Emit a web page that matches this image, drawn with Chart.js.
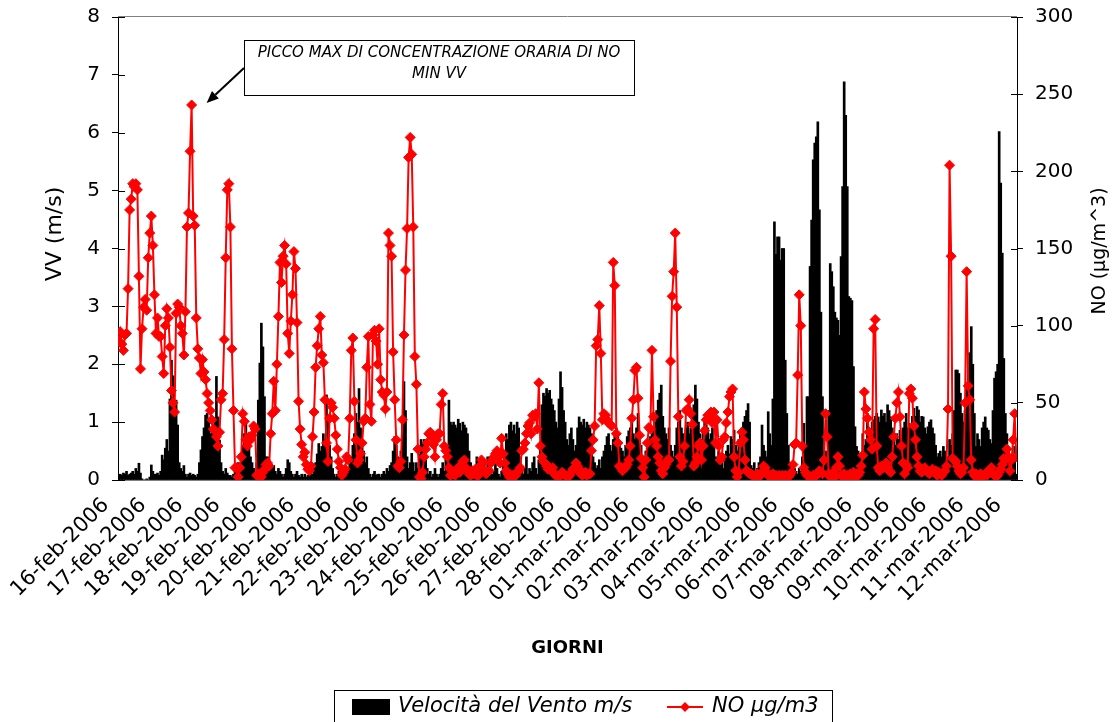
<!DOCTYPE html>
<html lang="it">
<head>
<meta charset="utf-8">
<title>Velocità del Vento e NO</title>
<script src="https://cdn.jsdelivr.net/npm/chart.js@4.4.1/dist/chart.umd.min.js"></script>
<style>
  html, body { margin: 0; padding: 0; background: #ffffff; }
  #wrap { position: relative; width: 1119px; height: 722px; }
</style>
</head>
<body>
<div id="wrap"><canvas id="chart" width="1119" height="722"></canvas></div>
<script>
// Day labels shown on the category axis (one every 24 hourly samples)
const dayLabels = [
  '16-feb-2006', '17-feb-2006', '18-feb-2006', '19-feb-2006', '20-feb-2006',
  '21-feb-2006', '22-feb-2006', '23-feb-2006', '24-feb-2006', '25-feb-2006',
  '26-feb-2006', '27-feb-2006', '28-feb-2006', '01-mar-2006', '02-mar-2006',
  '03-mar-2006', '04-mar-2006', '05-mar-2006', '06-mar-2006', '07-mar-2006',
  '08-mar-2006', '09-mar-2006', '10-mar-2006', '11-mar-2006', '12-mar-2006'
];

// Hourly wind speed, m/s (one row per day)
const windSpeed = [
  0.05,0.10,0.08,0.12,0.10,0.15,0.08,0.10,0.12,0.15,0.10,0.20,0.15,0.29,0.12,0.02,0.00,0.00,0.02,0.00,0.05,0.26,0.15,0.10,
  0.10,0.12,0.08,0.15,0.43,0.35,0.55,0.70,0.50,1.40,2.07,1.80,1.20,1.38,0.95,0.30,0.20,0.15,0.25,0.10,0.05,0.10,0.12,0.08,
  0.10,0.08,0.05,0.10,0.30,0.52,0.75,0.90,1.12,1.15,1.00,0.80,0.85,0.90,1.00,1.79,1.09,0.69,0.30,0.15,0.10,0.20,0.12,0.08,
  0.08,0.05,0.10,0.15,0.20,0.30,0.25,0.40,0.60,0.80,1.04,0.75,0.58,0.40,0.30,0.20,0.15,0.30,1.38,2.02,2.71,2.30,1.44,0.40,
  0.40,0.35,0.25,0.20,0.25,0.15,0.10,0.20,0.15,0.10,0.05,0.10,0.20,0.35,0.30,0.15,0.10,0.05,0.10,0.15,0.08,0.05,0.10,0.05,
  0.10,0.05,0.08,0.15,0.17,0.10,0.20,0.30,0.45,0.63,0.50,0.58,0.80,0.70,1.47,1.10,0.60,0.40,0.20,0.10,0.05,0.10,0.15,0.10,
  0.05,0.10,0.08,0.15,0.20,0.35,0.40,0.60,0.80,1.15,1.00,1.58,0.90,0.60,0.50,0.30,0.40,0.20,0.10,0.05,0.10,0.15,0.08,0.10,
  0.10,0.05,0.10,0.15,0.10,0.20,0.15,0.25,0.30,0.50,0.75,0.60,0.40,0.30,0.50,1.00,1.70,1.20,0.40,0.20,0.30,0.46,0.30,0.15,
  0.30,0.20,0.45,0.70,0.65,0.70,0.40,0.20,0.10,0.15,0.05,0.10,0.20,0.10,0.05,0.10,0.20,0.30,0.15,0.40,0.60,1.38,1.00,0.95,
  1.00,0.95,0.90,1.05,0.98,0.85,1.00,0.95,0.90,0.80,0.50,0.30,0.20,0.15,0.10,0.40,0.35,0.30,0.20,0.10,0.05,0.10,0.40,0.30,
  0.20,0.10,0.15,0.30,0.20,0.10,0.05,0.15,0.30,0.50,0.80,0.70,0.95,1.00,0.85,0.95,0.80,1.00,0.90,0.40,0.20,0.10,0.20,0.40,
  0.10,0.20,0.15,0.30,0.40,0.20,0.10,0.35,0.58,1.30,1.50,1.45,1.58,1.50,1.55,1.40,1.30,1.20,1.00,0.90,1.40,1.87,1.60,1.20,
  1.00,0.70,0.60,0.80,0.90,0.70,0.50,0.60,0.90,1.09,1.00,0.95,1.05,0.90,1.00,0.95,0.90,0.80,0.40,0.30,0.20,0.25,0.35,0.20,
  0.40,0.50,0.60,0.75,0.80,0.60,0.50,0.70,0.85,0.90,0.80,0.60,0.55,0.50,0.40,0.60,0.75,0.85,0.90,1.00,0.80,0.70,0.90,1.15,
  0.80,0.60,0.40,0.30,0.50,0.60,0.70,0.75,0.80,0.90,1.00,1.20,1.38,1.50,1.64,1.10,0.90,0.80,0.70,0.90,0.60,0.50,0.40,0.60,
  0.90,1.00,1.20,0.90,0.80,0.70,0.90,1.00,0.80,0.90,1.10,1.30,1.64,1.40,1.00,0.80,0.70,0.90,1.00,1.15,0.90,0.70,0.80,0.90,
  0.60,0.40,0.30,0.50,0.40,0.30,0.20,0.40,0.50,0.60,0.45,0.75,0.70,0.86,0.60,0.50,0.70,0.80,0.90,1.00,1.10,1.20,1.32,1.00,
  0.25,0.20,0.30,0.15,0.20,0.30,0.40,0.95,0.60,0.50,0.40,1.18,0.80,0.60,1.40,4.46,3.90,4.20,4.20,3.80,4.00,4.00,2.07,1.15,
  0.60,0.30,0.15,0.10,0.20,0.15,0.10,0.20,0.15,0.40,0.98,0.60,1.44,1.44,3.69,4.49,5.53,5.82,5.93,6.19,4.67,2.90,1.44,0.50,
  0.50,0.30,1.20,3.74,3.60,3.34,2.90,2.80,2.76,2.50,3.86,5.07,6.88,6.30,5.07,3.17,3.14,3.10,1.96,0.92,0.58,0.50,0.40,0.30,
  0.80,0.60,0.70,1.15,0.90,0.70,1.00,1.04,1.10,1.15,1.09,1.00,1.21,1.10,1.15,1.00,1.30,1.20,1.09,0.90,0.69,0.60,0.80,0.70,
  0.86,0.70,0.90,1.00,1.15,0.90,0.98,0.90,1.10,1.24,1.10,1.27,1.21,1.00,1.10,1.09,0.90,0.80,0.92,1.00,1.04,0.90,0.80,0.60,
  0.40,0.46,0.50,0.40,0.58,0.50,0.30,0.40,0.70,0.60,0.80,1.20,1.90,1.90,1.84,1.50,1.15,1.00,1.20,1.60,1.90,2.20,2.65,2.00,
  1.15,0.58,0.80,0.70,0.58,0.90,1.00,1.09,0.90,0.86,0.70,0.63,1.20,1.76,1.87,2.00,6.02,5.13,3.92,2.10,1.15,0.80,0.58,0.40,
  0.10,0.35,0.58,0.10
];

// Hourly NO concentration, µg/m3 (one row per day)
const noConc = [
  90,96,88,84,94,95,124,175,182,192,190,192,188,132,72,98,112,117,110,144,160,171,152,120,
  95,105,93,93,80,69,100,111,105,86,58,50,44,108,114,112,100,95,81,109,164,173,213,243,
  171,165,105,85,79,69,78,70,65,56,50,45,39,33,32,28,22,31,52,56,91,144,188,192,
  164,85,45,8,8,2,8,15,43,38,26,22,28,26,29,35,33,3,4,2,2,5,7,10,
  11,9,30,43,64,45,75,106,141,128,145,152,140,95,82,103,120,148,137,102,51,33,23,15,
  18,10,7,6,9,28,44,73,87,98,106,81,76,52,24,12,40,50,47,40,29,20,12,8,
  3,5,7,15,13,40,84,92,51,26,11,13,17,24,38,40,73,93,49,38,94,97,90,75,
  98,65,57,55,46,57,160,152,145,83,52,26,9,8,12,39,94,136,163,209,222,211,164,80,
  62,20,2,1,5,15,20,24,30,31,28,23,15,26,30,30,49,56,22,19,15,8,3,4,
  4,3,6,8,5,10,12,13,8,6,4,3,6,4,7,3,3,9,13,11,6,4,5,6,
  11,13,15,17,19,15,11,27,17,11,6,4,2,3,3,2,3,5,6,8,19,20,24,30,
  35,37,30,42,41,43,33,63,22,15,12,11,9,7,8,7,8,4,3,2,2,3,5,4,
  3,2,2,3,5,7,8,11,9,7,4,3,4,5,3,4,4,19,26,35,87,91,113,82,
  39,43,42,39,37,36,35,141,126,30,24,9,8,6,8,8,10,13,22,40,52,71,73,53,
  29,14,8,2,13,24,34,33,84,41,26,22,15,11,6,4,8,10,13,13,77,119,135,160,
  112,41,15,9,12,22,45,46,52,43,36,9,11,15,22,24,13,22,32,39,42,41,44,37,
  44,24,39,22,13,15,26,28,37,44,54,57,59,15,6,2,5,24,31,26,13,6,5,4,
  4,3,2,3,4,2,3,5,9,8,5,3,2,3,4,2,3,2,3,2,3,2,3,2,
  2,3,5,10,23,24,68,120,100,22,8,5,3,3,2,2,3,2,3,4,6,5,4,13,
  43,28,4,2,3,5,2,8,15,9,3,2,4,2,3,2,4,3,5,2,4,3,5,9,
  16,57,46,40,31,26,20,98,104,22,8,6,9,8,9,11,8,6,5,15,28,40,50,57,
  41,22,11,4,10,8,56,59,53,35,26,15,9,6,5,7,8,6,5,4,6,7,5,6,
  3,5,4,3,5,6,9,46,204,145,14,13,12,9,6,4,5,8,50,135,61,52,13,5,
  3,4,2,3,4,2,3,4,3,6,5,8,4,3,2,3,5,7,10,14,13,20,15,6,
  13,26,43,15
];

const seriesLabels = ['Velocità del Vento m/s', 'NO µg/m3'];
const axisTitles = { vv: 'VV (m/s)', no: 'NO (µg/m^3)', days: 'GIORNI' };
const noteLines = ['PICCO MAX DI CONCENTRAZIONE ORARIA DI NO', 'MIN VV'];

const FAMILY = '"DejaVu Sans", "Liberation Sans", sans-serif';
const hoursPerDay = 24;
const lastIndex = windSpeed.length - 1;

// keep the value axes from asking for extra room above and below the plot
function fixValueAxis(width) {
  return (scale) => {
    scale.width = width;
    scale.paddingTop = 0;
    scale.paddingBottom = 0;
  };
}

// Extra drawing: frame top, inner tick halves, value axis titles, note box and framed legend
const decorations = {
  id: 'decorations',
  afterDraw(chart) {
    const { ctx, chartArea: a, scales } = chart;
    ctx.save();

    // top edge of the plot frame
    ctx.strokeStyle = '#808080';
    ctx.lineWidth = 1;
    ctx.beginPath();
    ctx.moveTo(a.left, a.top - 0.5);
    ctx.lineTo(a.right, a.top - 0.5);
    ctx.stroke();

    // tick marks crossing into the plot on both value axes
    ctx.strokeStyle = '#000000';
    ctx.beginPath();
    scales.yVV.ticks.forEach(t => {
      const y = Math.round(scales.yVV.getPixelForValue(t.value)) + 0.5;
      ctx.moveTo(a.left, y); ctx.lineTo(a.left + 7, y);
    });
    scales.yNO.ticks.forEach(t => {
      const y = Math.round(scales.yNO.getPixelForValue(t.value)) + 0.5;
      ctx.moveTo(a.right - 6, y); ctx.lineTo(a.right, y);
    });
    ctx.stroke();

    // value axis titles, both reading bottom to top
    ctx.fillStyle = '#000000';
    ctx.textAlign = 'center';
    ctx.textBaseline = 'middle';
    ctx.save();
    ctx.translate(55, a.top + 217);
    ctx.rotate(-Math.PI / 2);
    ctx.font = '22px ' + FAMILY;
    ctx.fillText(axisTitles.vv, 0, 0);
    ctx.restore();
    ctx.save();
    ctx.translate(1100, a.top + 234);
    ctx.rotate(-Math.PI / 2);
    ctx.font = '19px ' + FAMILY;
    ctx.fillText(axisTitles.no, 0, 0);
    ctx.restore();

    // note box pointing at the hourly NO maximum
    const boxX = a.left + 126, boxY = a.top + 23, boxW = 390, boxH = 55;
    ctx.fillStyle = '#ffffff';
    ctx.fillRect(boxX, boxY, boxW, boxH);
    ctx.strokeStyle = '#000000';
    ctx.lineWidth = 1;
    ctx.strokeRect(boxX + 0.5, boxY + 0.5, boxW, boxH);
    ctx.fillStyle = '#000000';
    ctx.font = 'italic 15px ' + FAMILY;
    ctx.fillText(noteLines[0], boxX + boxW / 2, boxY + 13);
    ctx.fillText(noteLines[1], boxX + boxW / 2, boxY + 34);

    const iMax = noConc.indexOf(Math.max(...noConc));
    const px = scales.x.getPixelForValue(iMax);
    const py = scales.yNO.getPixelForValue(noConc[iMax]);
    const tip = { x: px + 15, y: py - 2 };
    const tail = { x: boxX, y: boxY + 28 };
    const ang = Math.atan2(tip.y - tail.y, tip.x - tail.x);
    const headLen = 12, headHalf = 5;
    const baseX = tip.x - headLen * Math.cos(ang), baseY = tip.y - headLen * Math.sin(ang);
    ctx.lineWidth = 2;
    ctx.beginPath();
    ctx.moveTo(tail.x, tail.y);
    ctx.lineTo(baseX, baseY);
    ctx.stroke();
    ctx.beginPath();
    ctx.moveTo(tip.x, tip.y);
    ctx.lineTo(baseX + headHalf * Math.sin(ang), baseY - headHalf * Math.cos(ang));
    ctx.lineTo(baseX - headHalf * Math.sin(ang), baseY + headHalf * Math.cos(ang));
    ctx.closePath();
    ctx.fill();

    // framed legend below the axis
    const bar = chart.data.datasets[0], line = chart.data.datasets[1];
    const lx = 334, ly = 690, lw = 498, lh = 40, cy = ly + 17;
    ctx.lineWidth = 1;
    ctx.strokeStyle = '#000000';
    ctx.strokeRect(lx + 0.5, ly + 0.5, lw, lh);
    ctx.fillStyle = bar.backgroundColor;
    ctx.fillRect(lx + 18, cy - 8, 38, 16);
    ctx.fillStyle = '#000000';
    ctx.font = 'italic 21px ' + FAMILY;
    ctx.textAlign = 'left';
    ctx.fillText(bar.label, lx + 64, cy);
    ctx.strokeStyle = line.borderColor;
    ctx.lineWidth = 2;
    ctx.beginPath();
    ctx.moveTo(lx + 333, cy);
    ctx.lineTo(lx + 369, cy);
    ctx.stroke();
    ctx.fillStyle = line.pointBackgroundColor;
    ctx.beginPath();
    ctx.moveTo(lx + 351, cy - 5);
    ctx.lineTo(lx + 356, cy);
    ctx.lineTo(lx + 351, cy + 5);
    ctx.lineTo(lx + 346, cy);
    ctx.closePath();
    ctx.fill();
    ctx.fillStyle = '#000000';
    ctx.fillText(line.label, lx + 378, cy);

    ctx.restore();
  }
};

new Chart(document.getElementById('chart'), {
  type: 'bar',
  data: {
    datasets: [
      {
        type: 'bar',
        label: seriesLabels[0],
        data: windSpeed.map((v, i) => ({ x: i, y: v })),
        yAxisID: 'yVV',
        backgroundColor: '#000000',
        borderWidth: 0,
        barThickness: 2,
        order: 2
      },
      {
        type: 'line',
        label: seriesLabels[1],
        data: noConc.map((v, i) => ({ x: i, y: v })),
        yAxisID: 'yNO',
        borderColor: '#ff0000',
        borderWidth: 2,
        pointStyle: 'rectRot',
        pointRadius: 5,
        pointBorderWidth: 1,
        pointBackgroundColor: '#ff0000',
        pointBorderColor: '#ff0000',
        tension: 0,
        order: 1
      }
    ]
  },
  options: {
    responsive: false,
    devicePixelRatio: 1,
    animation: false,
    layout: { padding: { top: 17, left: 0, right: 0, bottom: 0 } },
    plugins: {
      legend: { display: false },
      tooltip: { enabled: false }
    },
    scales: {
      x: {
        type: 'linear',
        min: -0.5,
        max: lastIndex + 0.5,
        offset: false,
        grid: { display: false, offset: false },
        border: { display: true, color: '#808080', width: 1 },
        afterBuildTicks(scale) {
          scale.ticks = dayLabels.map((_, d) => ({ value: d * hoursPerDay }));
        },
        afterFit(scale) { scale.height = 242; },
        ticks: {
          autoSkip: false,
          minRotation: 45,
          maxRotation: 45,
          padding: 5,
          labelOffset: -13,
          color: '#000000',
          font: { family: FAMILY, size: 21 },
          callback: (value) => dayLabels[Math.round(value / hoursPerDay)]
        },
        title: {
          display: true,
          text: axisTitles.days,
          color: '#000000',
          font: { family: FAMILY, size: 18, weight: 'bold' },
          padding: { top: 0, bottom: 63 }
        }
      },
      yVV: {
        type: 'linear',
        position: 'left',
        min: 0,
        max: 8,
        afterFit: fixValueAxis(118),
        grid: { drawOnChartArea: false, drawTicks: true, tickLength: 6, color: '#000000' },
        border: { display: true, color: '#000000', width: 1 },
        ticks: {
          stepSize: 1,
          padding: 12,
          color: '#000000',
          font: { family: FAMILY, size: 20 }
        }
      },
      yNO: {
        type: 'linear',
        position: 'right',
        min: 0,
        max: 300,
        afterFit: fixValueAxis(102),
        grid: { drawOnChartArea: false, drawTicks: true, tickLength: 6, color: '#000000' },
        border: { display: true, color: '#000000', width: 1 },
        ticks: {
          stepSize: 50,
          padding: 12,
          color: '#000000',
          font: { family: FAMILY, size: 20 }
        }
      }
    }
  },
  plugins: [decorations]
});
</script>
</body>
</html>
